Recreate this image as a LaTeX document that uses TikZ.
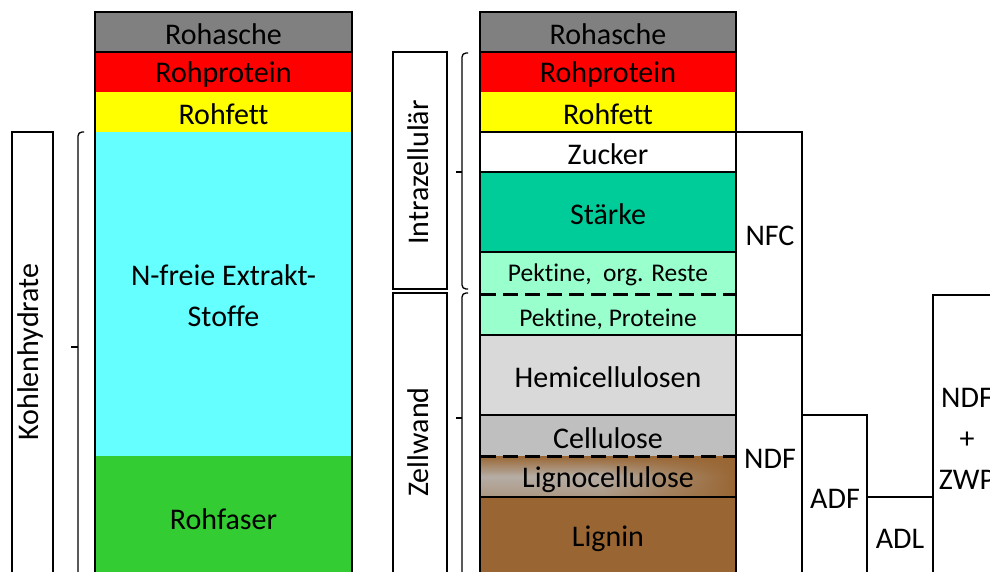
\documentclass[tikz,border=0pt]{standalone}
\usepackage{fontspec}
\setmainfont[Ligatures={NoCommon}]{Carlito}
\usetikzlibrary{fadings}
\definecolor{cAsche}{HTML}{808080}
\definecolor{cProt}{HTML}{FF0000}
\definecolor{cFett}{HTML}{FFFF00}
\definecolor{cNfE}{HTML}{66FFFF}
\definecolor{cFaser}{HTML}{33CC33}
\definecolor{cStaerke}{HTML}{00CC99}
\definecolor{cPekt}{HTML}{99FFCC}
\definecolor{cHemi}{HTML}{D9D9D9}
\definecolor{cCell}{HTML}{BFBFBF}
\definecolor{cLignin}{HTML}{996633}
\definecolor{cLgray}{HTML}{B5ADA5}
\tikzset{
  lbl/.style={font=\fontsize{30}{36}\selectfont, inner sep=0pt, text=black, yshift=-2pt},
  lblsmall/.style={font=\fontsize{25.5}{30}\selectfont, inner sep=0pt, text=black, yshift=-2pt},
  colborder/.style={line width=2.5pt, black},
  sepline/.style={line width=1.8pt, black},
  dashline/.style={line width=3pt, black, dash pattern=on 15pt off 7pt},
  sidebox/.style={line width=1.3pt, black},
  bracepath/.style={line width=1.3pt, black, rounded corners=4pt},
  fracbox/.style={line width=2pt, black},
}
\begin{document}
\begin{tikzpicture}[x=1pt,y=-1pt]
\useasboundingbox (0,0) rectangle (990,571);
\clip (0,0) rectangle (990,571);

% ---------- left column ----------
\fill[cAsche] (95,12) rectangle (352,52);
\fill[cProt] (95,52) rectangle (352,92);
\fill[cFett] (95,92) rectangle (352,132);
\fill[cNfE] (95,132) rectangle (352,456);
\fill[cFaser] (95,456) rectangle (352,590);
\draw[sepline] (95,52) -- (352,52);
\draw[colborder] (95,590) -- (95,12) -- (352,12) -- (352,590);

\node[lbl] (la) at (223.5,32) {Rohasche};
\node[lbl] (lp) at (223.5,72) {Rohprotein};
\node[lbl] (lf) at (223.5,112) {Rohfett};
\node[lbl, align=center] (ln) at (223.5,294) {N-freie Extrakt-\\[5pt]Stoffe};
\node[lbl] (lr) at (223.5,517) {Rohfaser};

% Kohlenhydrate box and brace
\draw[sidebox] (12,600) -- (12,132) -- (53,132) -- (53,600);
\node[lbl, rotate=90, yshift=2pt] (kh) at (33,350) {Kohlenhydrate};
\draw[bracepath] (84,132) -- (78,132) -- (78,600);
\draw[line width=1.6pt] (78,347) -- (71,347);

% ---------- middle column ----------
\fill[cAsche] (480,12) rectangle (736,52);
\fill[cProt] (480,52) rectangle (736,92);
\fill[cFett] (480,92) rectangle (736,132);
\fill[white] (480,132) rectangle (736,172);
\fill[cStaerke] (480,172) rectangle (736,252);
\fill[cPekt] (480,252) rectangle (736,335);
\fill[cHemi] (480,335) rectangle (736,415);
\fill[cCell] (480,415) rectangle (736,456);
\shade[top color=cLignin, bottom color=cLgray!70!cLignin, middle color=cLgray] (480,456) rectangle (736,497);
\fill[cLignin, path fading=west] (600,456) rectangle (736,497);
\fill[cLignin] (480,497) rectangle (736,590);

\draw[sepline] (480,52) -- (736,52);
\draw[sepline] (480,132) -- (736,132);
\draw[sepline] (480,172) -- (736,172);
\draw[sepline] (480,252) -- (736,252);
\draw[sepline] (480,335) -- (736,335);
\draw[sepline] (480,415) -- (736,415);
\draw[sepline] (480,497) -- (736,497);
\draw[dashline] (481,294) -- (736,294);
\draw[dashline] (481,456) -- (736,456);
\draw[colborder] (480,590) -- (480,12) -- (736,12) -- (736,590);

\node[lbl] (ma) at (608,32) {Rohasche};
\node[lbl] (mp) at (608,72) {Rohprotein};
\node[lbl] (mf) at (608,112) {Rohfett};
\node[lbl] (mz) at (608,152) {Zucker};
\node[lbl] (ms) at (608,212) {Stärke};
\node[lblsmall] (mpo) at (608,273) {Pektine,\ \ org. Reste};
\node[lblsmall] (mpp) at (608,317) {Pektine, Proteine};
\node[lbl] (mh) at (608,375) {Hemicellulosen};
\node[lbl] (mc) at (608,436) {Cellulose};
\node[lbl] (ml) at (608,478) {Lignocellulose};
\node[lbl] (mg) at (608,537) {Lignin};

% Intrazellulär / Zellwand boxes and braces
\draw[sidebox] (393,52) rectangle (447,289);
\node[lbl, rotate=90, yshift=2pt] (iz) at (420,170.5) {Intrazellulär};
\draw[sidebox] (393,600) -- (393,293) -- (447,293) -- (447,600);
\node[lbl, rotate=90, yshift=2pt] (zw) at (420,440) {Zellwand};
\draw[bracepath] (468,53) -- (462,53) -- (462,289) -- (468,289);
\draw[line width=1.6pt] (462,172) -- (456,172);
\draw[bracepath] (468,293) -- (462,293) -- (462,600);
\draw[line width=1.6pt] (462,418) -- (456,418);

% ---------- right fraction boxes ----------
\draw[fracbox] (736,132) -- (802,132) -- (802,600);
\draw[fracbox] (736,335) -- (802,335);
\draw[fracbox] (802,415) -- (867,415) -- (867,600);
\draw[fracbox] (867,497) -- (933,497);
\draw[fracbox] (933,600) -- (933,295) -- (1010,295);

\node[lbl] (nfc) at (770,234) {NFC};
\node[lbl] (ndf) at (770,457) {NDF};
\node[lbl] (adf) at (835,497) {ADF};
\node[lbl] (adl) at (900,537) {ADL};
\node[lbl, align=center] (zwp) at (967,437) {NDF\\[5pt]+\\[5pt]ZWP};
\end{tikzpicture}
\end{document}
